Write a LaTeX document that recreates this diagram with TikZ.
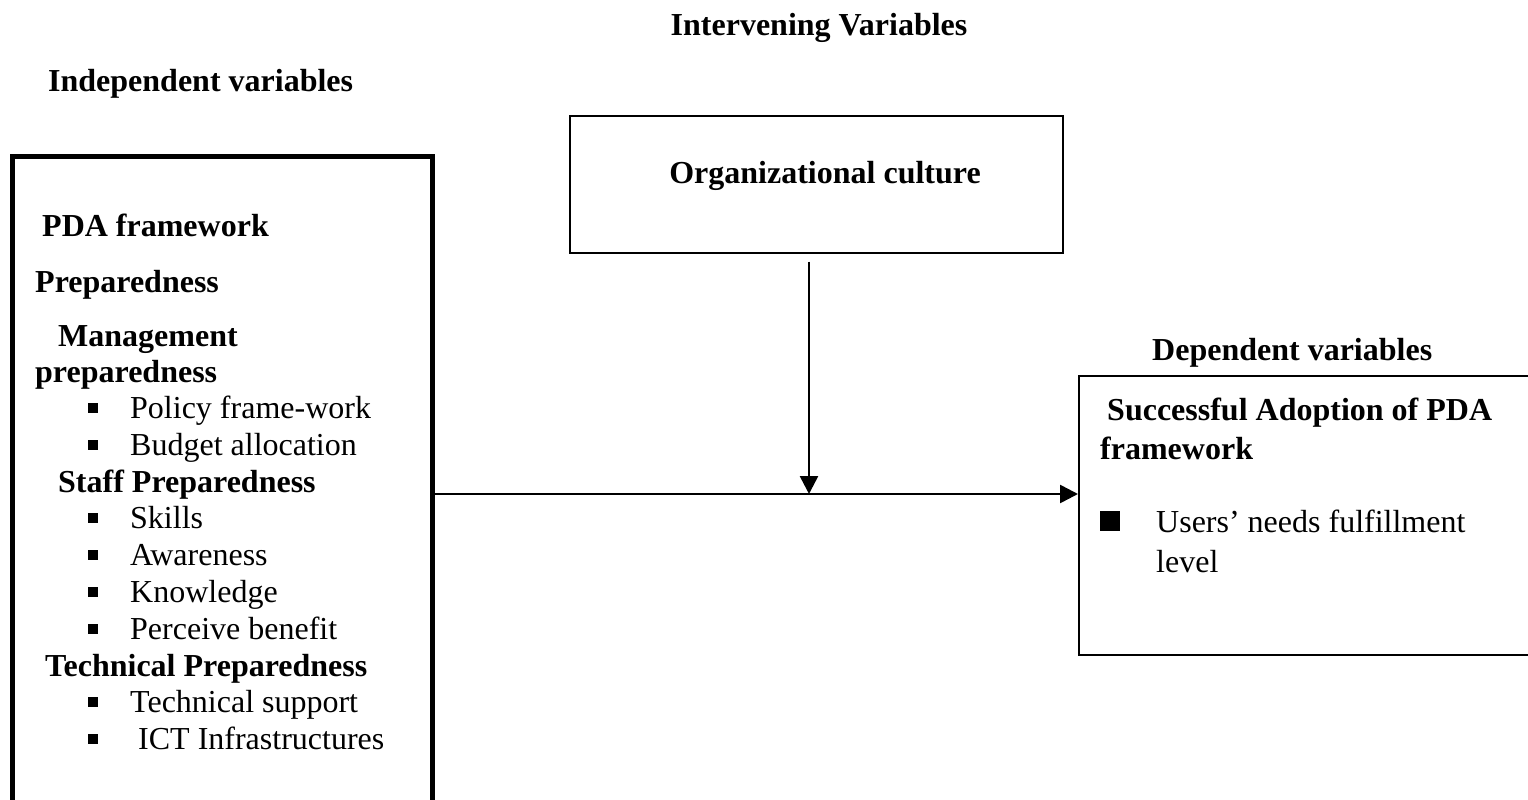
\documentclass[tikz,border=0pt]{standalone}
\usepackage{fontspec}
\setmainfont{Liberation Serif}
\usetikzlibrary{arrows.meta}
\begin{document}
\begin{tikzpicture}[x=1pt,y=-1pt,
  txt/.style={anchor=base west,inner sep=0pt,font=\fontsize{32}{38}\selectfont},
  hd/.style={txt,font=\fontsize{32}{38}\selectfont\bfseries},
  bul/.style={fill=black,inner sep=0pt,minimum size=10pt,draw=none},
  bigbul/.style={fill=black,inner sep=0pt,minimum size=20pt,draw=none},
  arr/.style={line width=2.6pt,-{Triangle[length=18pt,width=18pt]}}]
\clip (0,0) rectangle (1528,800);
\fill[white] (0,0) rectangle (1528,800);
% boxes
\node[draw,line width=4.5pt,minimum width=420pt,minimum height=660pt,inner sep=0pt,anchor=north west] (left) at (10,154) {};
\node[draw,line width=1.6pt,minimum width=493pt,minimum height=137pt,inner sep=0pt,anchor=north west] (org) at (569,115) {};
\node[draw,line width=1.6pt,minimum width=470pt,minimum height=279pt,inner sep=0pt,anchor=north west] (dep) at (1078,375) {};
% headings
\node[hd,anchor=base] (t1) at (819,36) {Intervening Variables};
\node[hd] (t2) at (48,91) {Independent variables};
\node[hd,anchor=base] (t3) at (825,183) {Organizational culture};
\node[hd] (t4) at (1152,360) {Dependent variables};
% left content
\node[hd] (l1) at (42,236) {PDA framework};
\node[hd] (l2) at (35,292) {Preparedness};
\node[hd] (l3) at (58,346) {Management};
\node[hd] (l4) at (35,382) {preparedness};
\node[txt] (b1) at (130,418) {Policy frame-work};
\node[txt] (b2) at (130,455) {Budget allocation};
\node[hd] (l5) at (58,492) {Staff Preparedness};
\node[txt] (b3) at (130,528) {Skills};
\node[txt] (b4) at (130,565) {Awareness};
\node[txt] (b5) at (130,602) {Knowledge};
\node[txt] (b6) at (130,639) {Perceive benefit};
\node[hd] (l6) at (45,676) {Technical Preparedness};
\node[txt] (b7) at (130,712) {Technical support};
\node[txt] (b8) at (138,749) {ICT Infrastructures};
\foreach \yy/\nm in {418/s1,455/s2,528/s3,565/s4,602/s5,639/s6,712/s7,749/s8}
  \node[bul] (\nm) at (92.5,\yy-10) {};
% right content
\node[hd] (r1) at (1107,420) {Successful Adoption of PDA};
\node[hd] (r2) at (1100,459) {framework};
\node[bigbul] (rb) at (1110,521) {};
\node[txt] (r3) at (1156,532) {Users’ needs fulfillment};
\node[txt] (r4) at (1156,572) {level};
% connectors
\coordinate (j) at (809,494);
\draw[arr] ([yshift=-8pt]org.south -| j) -- (j);
\draw[arr] (left.east |- j) -- (dep.west |- j);
\end{tikzpicture}
\end{document}
